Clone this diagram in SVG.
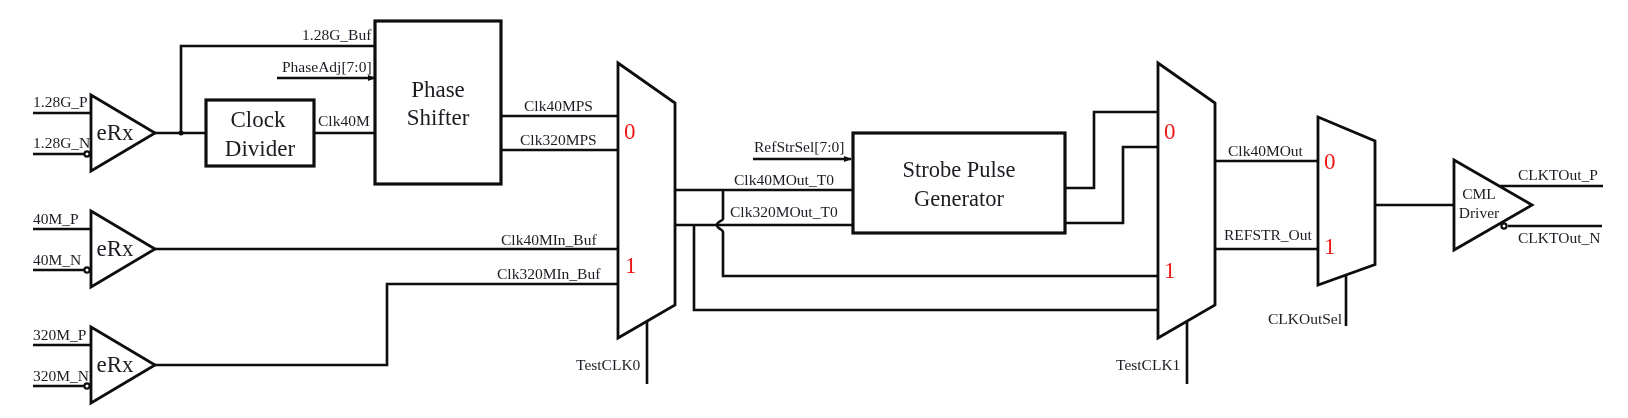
<svg xmlns="http://www.w3.org/2000/svg" width="1628" height="418" viewBox="0 0 1628 418">
<style>
text{font-family:"Liberation Serif","Times New Roman",serif;fill:#1c1c22}
.s{font-size:15.5px}
.n{font-size:23px;text-anchor:middle}
.g{font-size:22.5px}
.d{font-size:15.5px;text-anchor:middle}
.r{font-size:23px;fill:#f01818}
.b{fill:#fff;stroke:#111;stroke-width:3.2;stroke-linejoin:miter}
.m{fill:#fff;stroke:#111;stroke-width:2.8;stroke-linejoin:miter}
.w{fill:none;stroke:#111;stroke-width:2.6;stroke-linejoin:miter}
.t{fill:#fff;stroke:#111;stroke-width:2.2}
svg>g{filter:url(#soft)}
</style>
<defs>
<filter id="soft" x="0" y="0" width="1628" height="418" filterUnits="userSpaceOnUse"><feGaussianBlur stdDeviation="0.4"/></filter>
<marker id="a" markerWidth="8" markerHeight="6" refX="7" refY="3" orient="auto" markerUnits="userSpaceOnUse"><path d="M0 0L8 3L0 6Z" fill="#111"/></marker>
</defs>
<g id="connectors">
<path class="w" d="M33 113H91M33 154H86"/>
<path class="w" d="M33 229H91M33 270H86"/>
<path class="w" d="M33 345H91M33 386H86"/>
<path class="w" d="M155 133H206M181 133V46H375"/>
<circle cx="181" cy="133" r="2.5" fill="#111"/>
<path class="w" d="M314 133H375"/>
<path class="w" marker-end="url(#a)" d="M277 78H375"/>
<path class="w" d="M501 116H618M501 150H618"/>
<path class="w" d="M155 249H618"/>
<path class="w" d="M155 365H387V284H618"/>
<path class="w" d="M675 190H853"/>
<path class="w" d="M675 225H853"/>
<path class="w" d="M723 190V219C723 221 717 221 717 225C717 229 723 229 723 232V276H1158"/>
<path class="w" d="M694 225V310H1158"/>
<path class="w" marker-end="url(#a)" d="M753 159H851"/>
<path class="w" d="M1065 188H1094V112H1158"/>
<path class="w" d="M1065 223H1123V147H1158"/>
<path class="w" d="M1215 161H1318M1215 249H1318"/>
<path class="w" d="M1375 205H1454"/>
<path class="w" d="M1500 186H1603M1508 226H1602"/>
<path class="w" d="M647 322V384M1187 322V384M1346 275V326"/>
</g>
<g id="erx1"><path class="m" d="M91 95L155 133L91 171Z"/><circle class="t" cx="87" cy="154" r="2.6"/><text class="n" x="115" y="140">eRx</text></g>
<g id="erx2"><path class="m" d="M91 211L155 249L91 287Z"/><circle class="t" cx="87" cy="270" r="2.6"/><text class="n" x="115" y="256">eRx</text></g>
<g id="erx3"><path class="m" d="M91 327L155 365L91 403Z"/><circle class="t" cx="87" cy="386" r="2.6"/><text class="n" x="115" y="372">eRx</text></g>
<g id="clock-divider"><rect class="b" x="206" y="100" width="108" height="66"/><text class="n" x="258" y="127">Clock</text><text class="n" x="260" y="156">Divider</text></g>
<g id="phase-shifter"><rect class="b" x="375" y="21" width="126" height="163"/><text class="n" x="438" y="97">Phase</text><text class="n" x="438" y="125">Shifter</text></g>
<g id="mux0"><path class="m" d="M618 63L675 103V305L618 338Z"/><text class="r" x="624" y="139">0</text><text class="r" x="625" y="273">1</text></g>
<g id="strobe"><rect class="b" x="853" y="133" width="212" height="100"/><text class="n g" x="959" y="177">Strobe Pulse</text><text class="n g" x="959" y="206">Generator</text></g>
<g id="mux1"><path class="m" d="M1158 63L1215 103V305L1158 338Z"/><text class="r" x="1164" y="139">0</text><text class="r" x="1164" y="278">1</text></g>
<g id="mux2"><path class="m" d="M1318 117L1375 141V264.500L1318 285Z"/><text class="r" x="1324" y="169">0</text><text class="r" x="1324" y="254">1</text></g>
<g id="cml-driver"><path class="m" d="M1454 160L1532 205L1454 250Z"/><circle class="t" cx="1504" cy="226" r="2.6"/><text class="d" x="1479" y="199">CML</text><text class="d" x="1479" y="218">Driver</text></g>
<g id="labels">
<text class="s" x="33" y="107">1.28G_P</text>
<text class="s" x="33" y="148">1.28G_N</text>
<text class="s" x="33" y="224">40M_P</text>
<text class="s" x="33" y="265">40M_N</text>
<text class="s" x="33" y="340">320M_P</text>
<text class="s" x="33" y="381">320M_N</text>
<text class="s" x="302" y="40">1.28G_Buf</text>
<text class="s" x="282" y="72">PhaseAdj[7:0]</text>
<text class="s" x="318" y="126">Clk40M</text>
<text class="s" x="524" y="111">Clk40MPS</text>
<text class="s" x="520" y="145">Clk320MPS</text>
<text class="s" x="501" y="245">Clk40MIn_Buf</text>
<text class="s" x="497" y="279">Clk320MIn_Buf</text>
<text class="s" x="754" y="152">RefStrSel[7:0]</text>
<text class="s" x="734" y="185">Clk40MOut_T0</text>
<text class="s" x="730" y="217">Clk320MOut_T0</text>
<text class="s" x="576" y="370">TestCLK0</text>
<text class="s" x="1116" y="370">TestCLK1</text>
<text class="s" x="1228" y="156">Clk40MOut</text>
<text class="s" x="1224" y="240">REFSTR_Out</text>
<text class="s" x="1268" y="324">CLKOutSel</text>
<text class="s" x="1518" y="180">CLKTOut_P</text>
<text class="s" x="1518" y="243">CLKTOut_N</text>
</g>
</svg>
